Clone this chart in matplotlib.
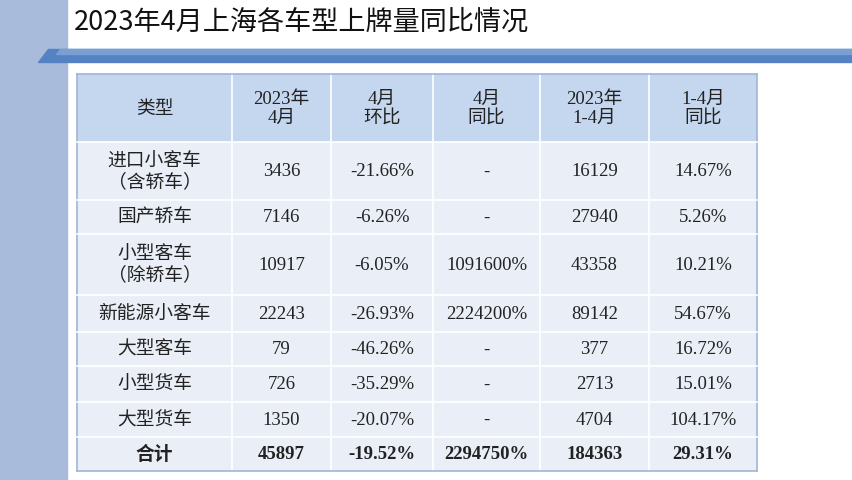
import matplotlib
matplotlib.use("Agg")
import matplotlib.pyplot as plt
from matplotlib.patches import Rectangle, Polygon

title = "2023年4月上海各车型上牌量同比情况"
headers = ["类型", "2023年\n4月", "4月\n环比", "4月\n同比", "2023年\n1-4月", "1-4月\n同比"]
types = ["进口小客车\n（含轿车）", "国产轿车", "小型客车\n（除轿车）", "新能源小客车", "大型客车", "小型货车", "大型货车", "合计"]
apr_2023 = ["3436", "7146", "10917", "22243", "79", "726", "1350", "45897"]
mom = ["-21.66%", "-6.26%", "-6.05%", "-26.93%", "-46.26%", "-35.29%", "-20.07%", "-19.52%"]
yoy = ["-", "-", "1091600%", "2224200%", "-", "-", "-", "2294750%"]
jan_apr = ["16129", "27940", "43358", "89142", "377", "2713", "4704", "184363"]
jan_apr_yoy = ["14.67%", "5.26%", "10.21%", "54.67%", "16.72%", "15.01%", "104.17%", "29.31%"]

W, H = 852, 481
fig = plt.figure(figsize=(W/100, H/100), dpi=100)
ax = fig.add_axes([0, 0, 1, 1])
ax.set_xlim(0, W); ax.set_ylim(H, 0); ax.axis("off")

# decorations
ax.add_patch(Rectangle((0, 0), 67, H, color="#a9bbdb", zorder=0))
ax.add_patch(Polygon([(48, 50), (W, 50), (W, 63), (38, 63)], color="#5582c2", zorder=1))
ax.add_patch(Polygon([(60, 50), (W, 50), (W, 55), (56, 55)], color="#7a9fd2", zorder=1))
ax.text(74, 22, title, fontsize=19.5, va="center", ha="left", family="Noto Sans CJK SC", color="#111111")

cols = [77, 232, 331, 433, 540, 649, 757]
rows = [75, 143, 201, 235, 296, 333, 367, 403, 438, 472]
cjk = ["Liberation Serif", "Noto Sans CJK SC"]

for r in range(len(rows)-1):
    color = "#c5d7ef" if r == 0 else "#e9eef7"
    ax.add_patch(Rectangle((cols[0], rows[r]), cols[-1]-cols[0], rows[r+1]-rows[r],
                           facecolor=color, edgecolor="none", zorder=2))
for x in cols:
    ax.plot([x, x], [rows[0], rows[-1]], color="#ffffff" if x not in (cols[0], cols[-1]) else "#9fb5d6", lw=1.2, zorder=3)
for i, y in enumerate(rows):
    ax.plot([cols[0], cols[-1]], [y, y], color="#ffffff" if 0 < i < len(rows)-1 else "#9fb5d6", lw=1.2, zorder=3)

def cell(c, r, s, bold=False):
    xc = (cols[c]+cols[c+1])/2; yc = (rows[r]+rows[r+1])/2
    ax.text(xc, yc, s, ha="center", va="center", fontsize=13.5, family=cjk,
            weight="bold" if bold else "normal", color="#222222", linespacing=1.2, zorder=4)

for c, h in enumerate(headers):
    cell(c, 0, h)
for i in range(len(types)):
    b = i == len(types)-1
    for c, v in enumerate([types[i], apr_2023[i], mom[i], yoy[i], jan_apr[i], jan_apr_yoy[i]]):
        cell(c, i+1, v, b)

fig.savefig("out.png", dpi=100)
